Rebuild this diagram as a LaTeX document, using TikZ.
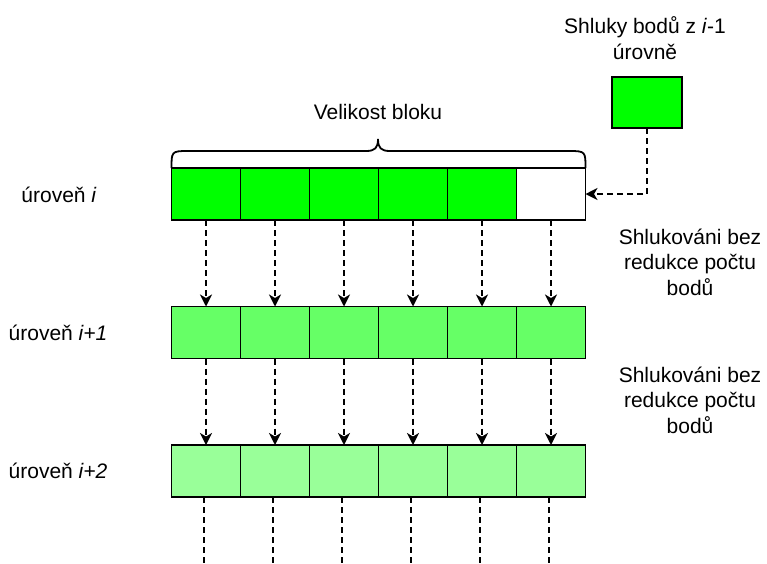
\documentclass[tikz,border=0pt]{standalone}
\usepackage{fontspec}
\setmainfont{Liberation Sans}
\usetikzlibrary{arrows.meta}
\definecolor{lvlA}{HTML}{00FF00}
\definecolor{lvlB}{HTML}{66FF66}
\definecolor{lvlC}{HTML}{99FF99}
\begin{document}
\begin{tikzpicture}[x=1pt,y=-1pt,
  cell/.style={draw=black, line width=1.8pt, minimum width=69pt, minimum height=52pt, inner sep=0pt, outer sep=0pt},
  lbl/.style={font=\fontsize{21}{25.5}\selectfont, align=center, inner sep=0pt},
  flow/.style={line width=1.8pt, dash pattern=on 6pt off 4pt, -{Stealth[length=12pt,width=12pt,inset=3.5pt]}},
  tail/.style={line width=1.8pt, dash pattern=on 6pt off 4pt}]
\useasboundingbox (0,0) rectangle (767,563);

% three levels of six cells each
\foreach \c in {1,...,5} {
  \node[cell, fill=lvlA] (a\c) at ({171.5+69*(\c-0.5)},194) {};
}
\node[cell, fill=white] (a6) at ({171.5+69*5.5},194) {};
\foreach \c in {1,...,6} {
  \node[cell, fill=lvlB] (b\c) at ({171.5+69*(\c-0.5)},332.5) {};
  \node[cell, fill=lvlC] (c\c) at ({171.5+69*(\c-0.5)},471) {};
  \coordinate (e\c) at ({171.5+69*(\c-0.5)-2},563);
}

% transitions between levels
\foreach \c in {1,...,6} {
  \draw[flow] (a\c.south) -- (b\c.north);
  \draw[flow] (b\c.south) -- (c\c.north);
  \draw[tail] (c\c.south -| e\c) -- (e\c);
}

% brace over the block
\draw[line width=1.8pt] (a1.north west) .. controls (171.5,152) and (171.5,151) .. (187,151)
  -- (366,151) .. controls (375,151) and (378,148) .. (378,139)
  .. controls (378,148) and (381,151) .. (390,151)
  -- (570,151) .. controls (585.5,151) and (585.5,152) .. (a6.north east);
\node[lbl] (size) at (378,112) {Velikost bloku};

% cluster from the previous level
\node[cell, minimum width=70pt, minimum height=51pt, fill=lvlA] (prev) at (647,102.5) {};
\node[lbl] (prevtxt) at (645,38) {Shluky bodů z \textit{i}-1\\úrovně};
\draw[flow] (prev.south) |- (a6.east);

% level labels
\node[lbl] (l1) at (59,195) {úroveň \textit{i}};
\node[lbl] (l2) at (58,333) {úroveň \textit{i+1}};
\node[lbl] (l3) at (58,471) {úroveň \textit{i+2}};

% notes on the right
\node[lbl] (n1) at (690,262) {Shlukováni bez\\redukce počtu\\bodů};
\node[lbl] (n2) at (690,400) {Shlukováni bez\\redukce počtu\\bodů};
\end{tikzpicture}
\end{document}
